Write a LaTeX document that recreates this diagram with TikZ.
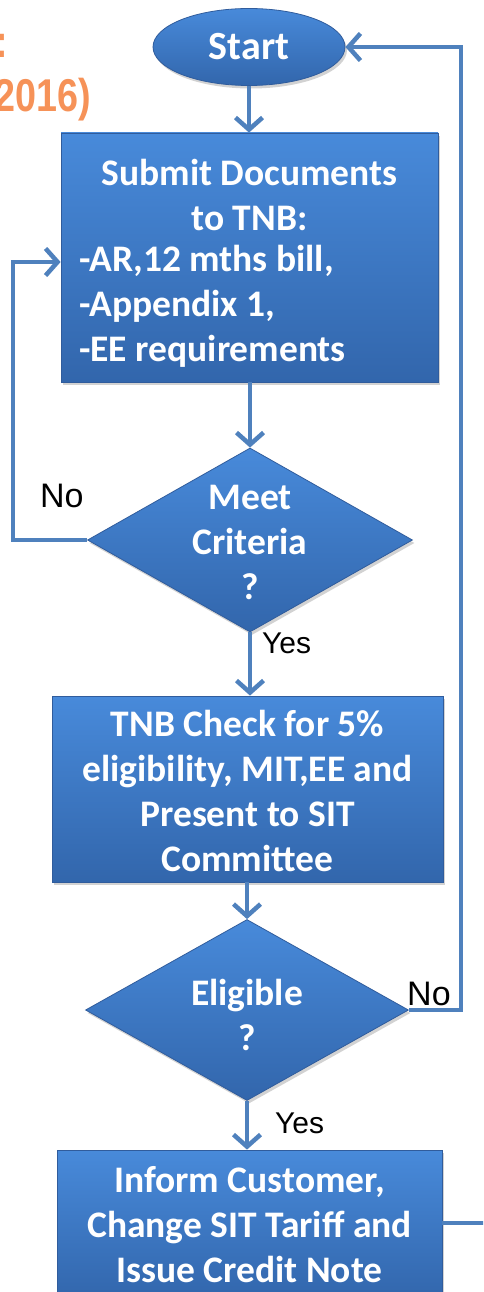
\documentclass[tikz,border=0pt]{standalone}
\usepackage{fontspec}
\setmainfont{Carlito}
\newfontfamily\arialfont{Liberation Sans}
\usetikzlibrary{arrows.meta,shapes.geometric,shadows}
\definecolor{boxtop}{RGB}{72,138,218}
\definecolor{boxbot}{RGB}{50,102,172}
\definecolor{boxedge}{RGB}{48,92,156}
\definecolor{conn}{RGB}{79,129,189}
\definecolor{orng}{RGB}{246,146,88}
\tikzset{
  flowbox/.style={rectangle, draw=boxedge, line width=0.8pt, top color=boxtop, bottom color=boxbot, inner sep=0pt,
    drop shadow={opacity=0.35, shadow xshift=2pt, shadow yshift=-3pt}},
  flowdiamond/.style={diamond, draw=boxedge, line width=0.8pt, top color=boxtop, bottom color=boxbot, inner sep=0pt,
    drop shadow={opacity=0.35, shadow xshift=2pt, shadow yshift=-3pt}},
  flowellipse/.style={ellipse, draw=boxedge, line width=0.8pt, top color=boxtop, bottom color=boxbot, inner sep=0pt,
    drop shadow={opacity=0.35, shadow xshift=2pt, shadow yshift=-3pt}},
  boxtext/.style={text=white, font=\fontsize{37.5}{45}\selectfont\bfseries, align=center, inner sep=0pt},
  conlab/.style={text=black, inner sep=0pt},
  conline/.style={draw=conn, line width=4.5pt},
  conarrow/.style={conline, -{Straight Barb[length=12pt, width=27pt, line width=4.5pt]}},
  orangetext/.style={anchor=base east, inner sep=0pt, text=orng, font=\arialfont\bfseries\fontsize{46}{52}\selectfont},
}
\begin{document}
\begin{tikzpicture}[x=1pt, y=-1pt]
\useasboundingbox (0,0) rectangle (483,1292);
\clip (0,0) rectangle (483,1292);
\fill[white] (0,0) rectangle (483,1292);

% orange fragments of a title (cut off by the left edge, as in the reference)
\node[orangetext] (ocolon) at (9,58) {:};
\node[orangetext] (oyear) at (91,112) {\scalebox{0.82}[1]{2016)}};

% shapes
\node[flowellipse, minimum width=192pt, minimum height=77pt] (start) at (249,47) {};
\node[boxtext, font=\fontsize{40}{45}\selectfont\bfseries] (starttext) at (249,47) {Start};

\node[flowbox, minimum width=377pt, minimum height=249pt] (box1) at (249.5,257.5) {};
\node[boxtext] (box1a) at (249.5,195) {Submit Documents\\to TNB:};
\node[boxtext, align=left, anchor=west] (box1b) at (79,306) {-AR,12 mths bill,\\-Appendix 1,\\-EE requirements};

\node[flowdiamond, minimum width=325pt, minimum height=184pt] (d1) at (250,540) {};
\node[boxtext] (d1text) at (250,542) {Meet\\Criteria\\?};

\node[flowbox, minimum width=391pt, minimum height=186pt] (box2) at (247.5,789) {};
\node[boxtext] (box2text) at (247.5,791) {TNB Check for 5\%\\eligibility, MIT,EE and\\Present to SIT\\Committee};

\node[flowdiamond, minimum width=323pt, minimum height=181pt] (d2) at (247,1010) {};
\node[boxtext] (d2text) at (247,1015) {Eligible\\?};

\node[flowbox, minimum width=385pt, minimum height=150pt] (box3) at (249.5,1225) {};
\node[boxtext] (box3text) at (249.5,1225) {Inform Customer,\\Change SIT Tariff and\\Issue Credit Note};

% connectors
\coordinate (nl) at (13,262);
\coordinate (rr) at (461,47);
\coordinate (outr) at (495,1223);

\draw[conarrow] (start.south) -- (start.south |- box1.north);
\draw[conarrow] (box1.south -| d1.north) -- (d1.north);
\draw[conarrow, line join=miter] (d1.west) -| (nl) -- (nl -| box1.west);
\draw[conarrow] (d1.south) -- (d1.south |- box2.north);
\draw[conarrow] (box2.south -| d2.north) -- (d2.north);
\draw[conarrow, line join=miter] (d2.east) -| (rr) -- (start.east);
\draw[conarrow] (d2.south) -- (d2.south |- box3.north);
\draw[conline] (box3.east |- outr) -- (outr);

% labels
\node[conlab, anchor=base west, font=\arialfont\fontsize{34}{40}\selectfont] (no1) at (40,507) {No};
\node[conlab, anchor=base west, font=\arialfont\fontsize{30}{36}\selectfont] (yes1) at (262,653) {Yes};
\node[conlab, anchor=base west, font=\arialfont\fontsize{34}{40}\selectfont] (no2) at (407,1005) {No};
\node[conlab, anchor=base west, font=\arialfont\fontsize{30}{36}\selectfont] (yes2) at (275,1133) {Yes};
\end{tikzpicture}
\end{document}
